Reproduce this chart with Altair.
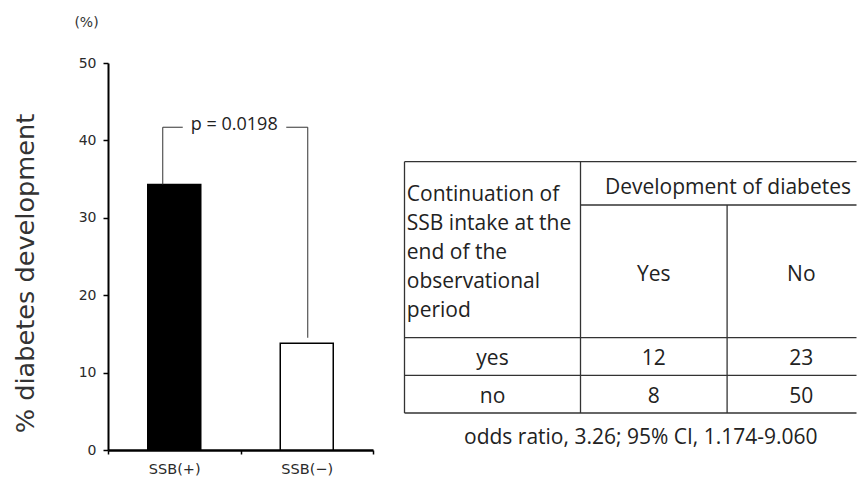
import altair as alt
import pandas as pd

# ---------------- data ----------------
categories = ["SSB(+)", "SSB(−)"]
percent = [34.3, 13.8]
y_ticks = [0, 10, 20, 30, 40, 50]
unit_label = "(%)"
y_title = "% diabetes development"
p_label = "p = 0.0198"
bracket_top = 41.7
bracket_low = [34.3, 14.5]

header_left = ["Continuation of", "SSB intake at the", "end of the", "observational", "period"]
header_top = "Development of diabetes"
col_labels = ["Yes", "No"]
row_labels = ["yes", "no"]
counts_yes = [12, 8]
counts_no = [23, 50]
caption = "odds ratio, 3.26; 95% CI, 1.174-9.060"

# ---------------- styles ----------------
LABEL_FONT = "DejaVu Sans"
TABLE_FONT = "Open Sans"
INK = "#222222"
W, H = 265, 387

# ---------------- bar chart ----------------
bars_df = pd.DataFrame({"group": categories, "pct": percent})

x_enc = alt.X(
    "group:N", sort=categories,
    scale=alt.Scale(domain=categories, paddingInner=0, paddingOuter=0),
    axis=alt.Axis(title=None, labelAngle=0, tickBand="extent", tickSize=4, tickWidth=1.5,
                  tickColor="#000", domainColor="#000", domainWidth=2.5,
                  labelFont=LABEL_FONT, labelFontSize=14.5, labelColor="#2a2a2a",
                  labelPadding=8),
)
y_scale = alt.Scale(domain=[0, 50])
y_enc = alt.Y(
    "pct:Q", scale=y_scale,
    axis=alt.Axis(values=y_ticks, grid=False, title=y_title, titleFont=LABEL_FONT,
                  titleFontSize=25.6, titleFontWeight="normal", titleColor="#333",
                  titlePadding=40, titleY=210,
                  tickSize=5, tickWidth=1.5, tickColor="#000",
                  domainColor="#000", domainWidth=2,
                  labelFont=LABEL_FONT, labelFontSize=14, labelColor="#2a2a2a",
                  labelPadding=7),
)

bars = alt.Chart(bars_df).mark_bar(size=53, stroke="#000", strokeWidth=1.5).encode(
    x=x_enc, y=y_enc,
    color=alt.Color("group:N", scale=alt.Scale(domain=categories, range=["#000000", "#ffffff"]),
                    legend=None),
)

br_df = pd.DataFrame({"group": categories, "low": bracket_low,
                      "top": [bracket_top, bracket_top], "label": [p_label, p_label]})
left_df = br_df.iloc[[0]]
right_df = br_df.iloc[[1]]

rule_style = dict(color="#333", strokeWidth=1)
v_left = alt.Chart(left_df).mark_rule(xOffset=-11.5, **rule_style).encode(
    x=alt.X("group:N", sort=categories), y="low:Q", y2="top:Q")
v_right = alt.Chart(right_df).mark_rule(xOffset=1, **rule_style).encode(
    x=alt.X("group:N", sort=categories), y="low:Q", y2="top:Q")
h_left = alt.Chart(left_df).mark_rule(xOffset=-11.5, x2Offset=8.5, **rule_style).encode(
    x=alt.X("group:N", sort=categories), x2="group", y="top:Q")
h_right = alt.Chart(right_df).mark_rule(xOffset=-20.5, x2Offset=1, **rule_style).encode(
    x=alt.X("group:N", sort=categories), x2="group", y="top:Q")
p_text = alt.Chart(left_df).mark_text(font=TABLE_FONT, fontSize=18, color=INK,
                                      baseline="alphabetic", align="center",
                                      dx=60, dy=2.5).encode(
    x=alt.X("group:N", sort=categories), y="top:Q", text="label:N")

unit_text = alt.Chart(pd.DataFrame({"t": [unit_label]})).mark_text(
    font=LABEL_FONT, fontSize=14, color="#333", align="center", baseline="middle"
).encode(x=alt.value(-21.5), y=alt.value(-40.5), text="t:N")

left = alt.layer(bars, v_left, v_right, h_left, h_right, p_text, unit_text).properties(
    width=W, height=H)

# ---------------- table ----------------
TW, TH = 452, 387
c0, c1, c2, c3 = 0, 176, 322.6, 471
r0, r_sub, r1, r2, r3 = 98.7, 142, 274.7, 312.3, 350
xs = alt.Scale(domain=[0, TW], range=[0, TW])
ys = alt.Scale(domain=[0, TH], range=[0, TH])

h_lines = pd.DataFrame([
    {"x": c0, "x2": TW, "y": r0},
    {"x": c1, "x2": TW, "y": r_sub},
    {"x": c0, "x2": TW, "y": r1},
    {"x": c0, "x2": TW, "y": r2},
    {"x": c0, "x2": TW, "y": r3},
])
v_lines = pd.DataFrame([
    {"x": c0, "y": r0, "y2": r3},
    {"x": c1, "y": r0, "y2": r3},
    {"x": c2, "y": r_sub, "y2": r3},
])
line_style = dict(color="#333", strokeWidth=1.3)
t_h = alt.Chart(h_lines).mark_rule(**line_style).encode(
    x=alt.X("x:Q", scale=xs, axis=None), x2="x2:Q", y=alt.Y("y:Q", scale=ys, axis=None))
t_v = alt.Chart(v_lines).mark_rule(**line_style).encode(
    x=alt.X("x:Q", scale=xs, axis=None), y=alt.Y("y:Q", scale=ys, axis=None), y2="y2:Q")

left_lines = pd.DataFrame({"text": header_left,
                           "x": [c0 + 2.3] * len(header_left),
                           "y": [138 + 29 * i for i in range(len(header_left))]})
t_left = alt.Chart(left_lines).mark_text(font=TABLE_FONT, fontSize=21, color=INK,
                                         align="left", baseline="alphabetic").encode(
    x=alt.X("x:Q", scale=xs, axis=None), y=alt.Y("y:Q", scale=ys, axis=None), text="text:N")

mid1 = (c1 + c2) / 2
mid2 = (c2 + c3) / 2
cells = pd.DataFrame([
    {"text": header_top, "x": (c1 + c3) / 2, "y": 130.7},
    {"text": col_labels[0], "x": mid1, "y": 218},
    {"text": col_labels[1], "x": mid2, "y": 218},
    {"text": row_labels[0], "x": (c0 + c1) / 2, "y": 302.3},
    {"text": str(counts_yes[0]), "x": mid1, "y": 302.3},
    {"text": str(counts_no[0]), "x": mid2, "y": 302.3},
    {"text": row_labels[1], "x": (c0 + c1) / 2, "y": 340.3},
    {"text": str(counts_yes[1]), "x": mid1, "y": 340.3},
    {"text": str(counts_no[1]), "x": mid2, "y": 340.3},
    {"text": caption, "x": 236.3, "y": 380.5},
])
t_cells = alt.Chart(cells).mark_text(font=TABLE_FONT, fontSize=21, color=INK,
                                     align="center", baseline="alphabetic").encode(
    x=alt.X("x:Q", scale=xs, axis=None), y=alt.Y("y:Q", scale=ys, axis=None), text="text:N")

table = alt.layer(t_h, t_v, t_left, t_cells).properties(width=TW, height=TH)

chart = alt.hconcat(left, table, spacing=29.5).resolve_scale(
    x="independent", y="independent"
).properties(
    background="white",
    padding={"left": 5, "top": 7, "right": 0, "bottom": 0},
).configure_view(stroke=None)

chart.save("out.html", embed_options={"renderer": "svg", "actions": False})
